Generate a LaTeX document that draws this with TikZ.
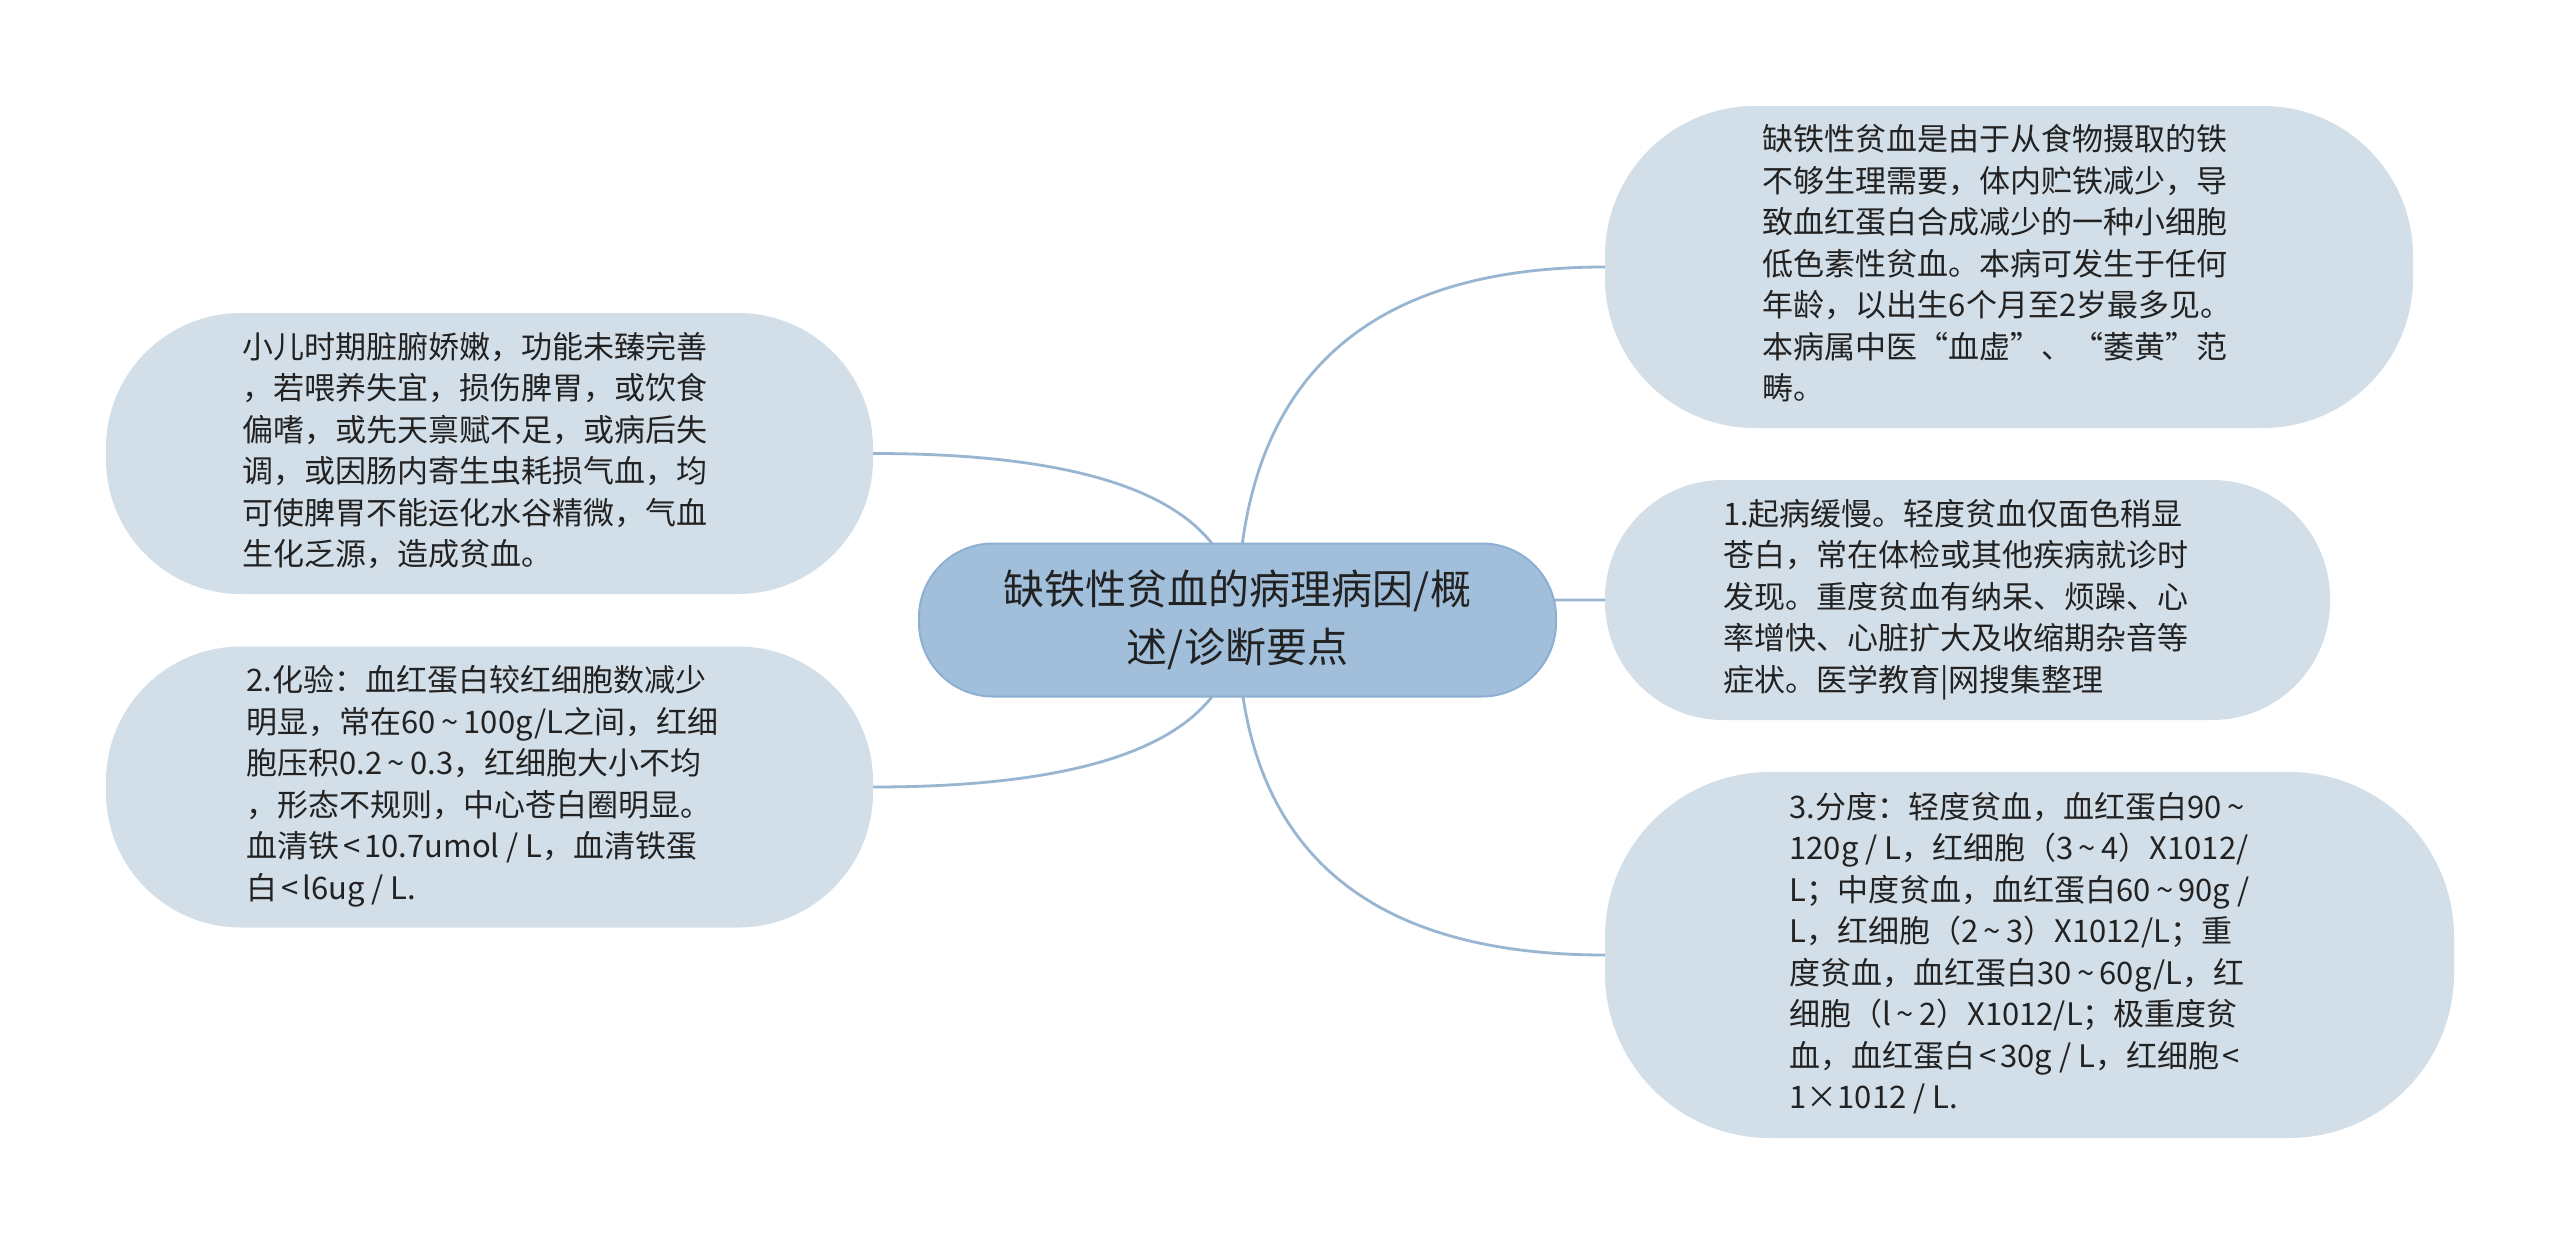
\documentclass[tikz,border=0pt]{standalone}
\usepackage{fontspec}
\setmainfont{Noto Sans CJK SC}
\usetikzlibrary{calc,backgrounds}
\definecolor{leaffill}{HTML}{D3DFE8}
\definecolor{rootfill}{HTML}{A1BFDB}
\definecolor{rootline}{HTML}{8DB0D2}
\definecolor{linkcol}{HTML}{98B5D1}
\definecolor{txtcol}{HTML}{222222}
\newcommand\tld{\makebox[0.9em]{\textasciitilde}}
\newcommand\lsth{\makebox[0.8em]{<}}
\newenvironment{lines}[1]{\begin{tabular}{@{}l@{\hspace{#1}}}}{\end{tabular}}
\tikzset{
  leafbox/.style={rectangle, fill=leaffill, text=txtcol, inner sep=0pt,
    font=\fontsize{31pt}{41.5pt}\selectfont},
  rootbox/.style={rectangle, fill=rootfill, draw=rootline, line width=2pt, text=txtcol,
    align=center, inner sep=0pt, font=\fontsize{41pt}{58pt}\selectfont},
  link/.style={draw=linkcol, line width=2.8pt},
  qlink/.style={to path={let \p1=(\tikztostart), \p2=(\tikztotarget) in
    .. controls ($(\p1)!2/3!(\x1,\y2)$) and ($(\p2)!2/3!(\x1,\y2)$) .. (\tikztotarget)}}
}
\begin{document}
\begin{tikzpicture}[x=1pt,y=-1pt]
\useasboundingbox (0,0) rectangle (2560,1242);

\node[rootbox, minimum width=637pt, minimum height=153pt, rounded corners=74pt] (c) at (1237.5,620)
  {缺铁性贫血的病理病因/概\\述/诊断要点};

\node[leafbox, minimum width=808pt, minimum height=322pt, rounded corners=150pt] (rt) at (2009,267)
  {\begin{lines}{24pt}
   缺铁性贫血是由于从食物摄取的铁\\
   不够生理需要，体内贮铁减少，导\\
   致血红蛋白合成减少的一种小细胞\\
   低色素性贫血。本病可发生于任何\\
   年龄，以出生6个月至2岁最多见。\\
   本病属中医“血虚”、“萎黄”范\\
   畴。
   \end{lines}};

\node[leafbox, minimum width=725pt, minimum height=240pt, rounded corners=118pt] (rm) at (1967.5,600)
  {\begin{lines}{24pt}
   1.起病缓慢。轻度贫血仅面色稍显\\
   苍白，常在体检或其他疾病就诊时\\
   发现。重度贫血有纳呆、烦躁、心\\
   率增快、心脏扩大及收缩期杂音等\\
   症状。医学教育|网搜集整理
   \end{lines}};

\node[leafbox, minimum width=849pt, minimum height=366pt, rounded corners=165pt] (rb) at (2029.5,955)
  {\begin{lines}{20pt}
   3.分度：轻度贫血，血红蛋白90\tld\\
   120g / L，红细胞（3\tld 4）X1012/\\
   L；中度贫血，血红蛋白60\tld 90g /\\
   L，红细胞（2\tld 3）X1012/L；重\\
   度贫血，血红蛋白30\tld 60g/L，红\\
   细胞（l\tld 2）X1012/L；极重度贫\\
   血，血红蛋白\lsth 30g / L，红细胞\lsth\\
   1×1012 / L.
   \end{lines}};

\node[leafbox, minimum width=767pt, minimum height=281pt, rounded corners=135pt] (lt) at (489.5,453.5)
  {\begin{lines}{30pt}
   小儿时期脏腑娇嫩，功能未臻完善\\
   ，若喂养失宜，损伤脾胃，或饮食\\
   偏嗜，或先天禀赋不足，或病后失\\
   调，或因肠内寄生虫耗损气血，均\\
   可使脾胃不能运化水谷精微，气血\\
   生化乏源，造成贫血。
   \end{lines}};

\node[leafbox, minimum width=767pt, minimum height=281pt, rounded corners=135pt] (lb) at (489.5,787)
  {\begin{lines}{14pt}
   2.化验：血红蛋白较红细胞数减少\\
   明显，常在60\tld 100g/L之间，红细\\
   胞压积0.2\tld 0.3，红细胞大小不均\\
   ，形态不规则，中心苍白圈明显。\\
   血清铁\lsth 10.7umol / L，血清铁蛋\\
   白\lsth l6ug / L.
   \end{lines}};

\begin{scope}[on background layer]
  \fill[white] (0,0) rectangle (2560,1242);
  \draw[link] (c.center) to[qlink] (rt.west);
  \draw[link] (c.center) to[qlink] (rm.west);
  \draw[link] (c.center) to[qlink] (rb.west);
  \draw[link] (c.center) to[qlink] (lt.east);
  \draw[link] (c.center) to[qlink] (lb.east);
\end{scope}
\end{tikzpicture}
\end{document}
